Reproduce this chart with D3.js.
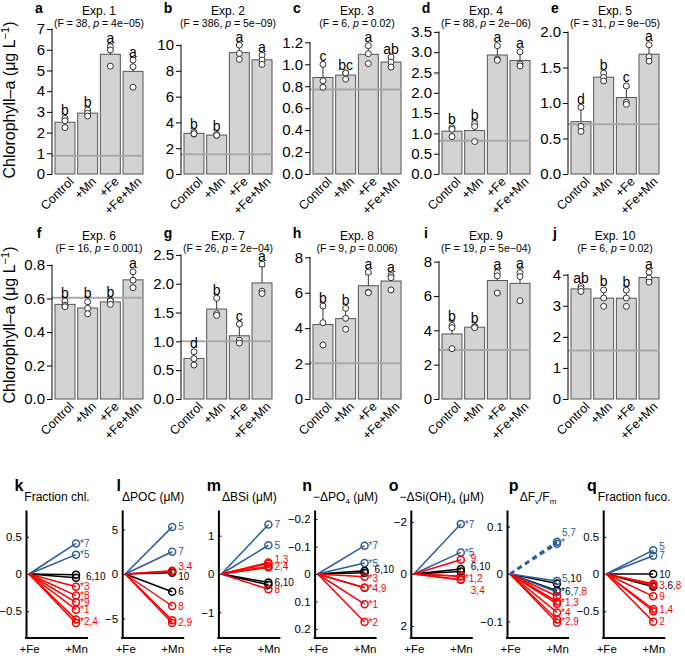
<!DOCTYPE html>
<html>
<head>
<meta charset="utf-8">
<script src="https://cdn.jsdelivr.net/npm/d3@7"></script>
<style>
body { margin: 0; background: #fff; }
svg { font-family: "Liberation Sans", Arial, sans-serif; }
</style>
</head>
<body>
<script>
// ---- chlorophyll-a bioassays (panels a-j) ----
var treatments = ["Control", "+Mn", "+Fe", "+Fe+Mn"];
var panelLetters = ["a", "b", "c", "d", "e", "f", "g", "h", "i", "j"];
var expNames = ["Exp. 1", "Exp. 2", "Exp. 3", "Exp. 4", "Exp. 5", "Exp. 6", "Exp. 7", "Exp. 8", "Exp. 9", "Exp. 10"];
var fValues = ["38", "386", "6", "88", "31", "16", "26", "9", "19", "6"];
var pValues = ["4e\u221205", "5e\u221209", "0.02", "2e\u221206", "9e\u221205", "0.001", "2e\u221204", "0.006", "5e\u221204", "0.02"];
var sigLetters = [
  ["b", "b", "a", "a"], ["b", "b", "a", "a"], ["c", "bc", "a", "ab"], ["b", "b", "a", "a"], ["d", "b", "c", "a"],
  ["b", "b", "b", "a"], ["d", "b", "c", "a"], ["b", "b", "a", "a"], ["b", "b", "a", "a"], ["ab", "b", "b", "a"]
];
var initialChl = [0.88, 1.53, 0.77, 0.82, 0.70, 0.605, 1.0, 2.02, 2.85, 1.56];
// triplicate bottles: Control, +Mn, +Fe, +Fe+Mn
var replicates = [
  [[2.69, 2.57, 2.24], [3.09, 2.93, 2.80], [6.15, 5.99, 5.21], [5.50, 5.18, 4.19]],
  [[3.25, 3.10, 3.12], [3.06, 3.00, 3.00], [10.0, 9.35, 8.89], [9.22, 8.84, 8.50]],
  [[1.00, 0.85, 0.79], [0.92, 0.92, 0.864], [1.17, 1.097, 1.006], [1.066, 1.02, 0.975]],
  [[1.14, 1.10, 0.92], [1.24, 1.17, 0.80], [3.16, 2.83, 2.80], [3.01, 2.71, 2.66]],
  [[0.94, 0.67, 0.60], [1.42, 1.36, 1.31], [1.24, 1.01, 0.98], [1.82, 1.65, 1.59]],
  [[0.585, 0.56, 0.551], [0.581, 0.541, 0.509], [0.59, 0.585, 0.565], [0.76, 0.71, 0.665]],
  [[0.82, 0.70, 0.59], [1.75, 1.48, 1.45], [1.30, 1.02, 0.97], [2.34, 1.87, 1.83]],
  [[5.25, 4.31, 3.05], [5.12, 4.56, 3.94], [7.16, 6.03, 6.00], [6.97, 6.85, 6.16]],
  [[4.28, 4.15, 2.93], [4.22, 4.18, 4.15], [7.36, 7.17, 6.17], [7.36, 7.13, 5.72]],
  [[3.62, 3.55, 3.46], [3.51, 3.25, 2.98], [3.50, 3.25, 2.98], [4.08, 3.89, 3.76]]
];
var yMax = [7.1, 11.4, 1.34, 3.62, 2.07, 0.878, 2.55, 8.3, 8.56, 4.73];
var tickMax = [7, 10, 1.2, 3.5, 2.0, 0.8, 2.5, 8, 8, 4];
var tickStep = [1, 2, 0.2, 0.5, 0.5, 0.2, 0.5, 2, 2, 1];
var tickDecimals = [0, 0, 1, 1, 1, 1, 1, 0, 0, 0];

// ---- +Fe+Mn relative to +Fe (panels k-q), experiments 1..10 ----
var mnEffect = ["neg", "neg", "neg", "neg", "pos", "none", "pos", "neg", "neg", "none"];
var fracChl = [-0.48, -0.61, -0.17, -0.66, 0.26, -0.05, 0.41, -0.29, -0.38, -0.01];
var dPOC = [null, -5.2, 0.37, 0.30, 5.3, -2.0, 2.5, -3.6, -5.5, 0.15];
var dBSi = [0.30, 0.20, 0.27, 0.17, 0.75, -0.22, 1.29, -0.40, null, -0.28];
var negDPO4 = [0.11, 0.175, 0.01, 0.05, -0.04, -0.012, -0.103, null, 0.05, -0.005];
var negDSi = [0.09, 0.09, 0.22, 0.22, -0.83, -0.19, -1.92, null, -0.55, -0.10];
var dFvFm = [-0.058, -0.096, -0.063, -0.081, -0.015, -0.035, -0.038, -0.047, -0.103, -0.02];
var dFvFmDashed = [[5, 0.068], [7, 0.064]];
var fracFuco = [-0.47, -0.64, -0.13, -0.50, 0.32, -0.17, 0.245, -0.15, -0.30, 0.0];
// label: [value, experiments, star]
var chlLabels = [[0.41, [7], 1], [0.26, [5], 1], [-0.03, [6, 10], 0], [-0.17, [3], 1], [-0.29, [8], 1], [-0.38, [9], 1], [-0.48, [1], 1], [-0.64, [2, 4], 1]];
var pocLabels = [[5.3, [5], 0], [2.5, [7], 0], [0.85, [3, 4], 0], [-0.25, [10], 0], [-2.0, [6], 0], [-3.6, [8], 0], [-5.4, [2, 9], 0]];
var bsiLabels = [[1.29, [7], 0], [0.75, [5], 0], [0.39, [1, 3], 0], [0.2, [2, 4], 0], [-0.22, [6, 10], 0], [-0.41, [8], 0]];
var po4Labels = [[-0.103, [7], 1], [-0.04, [5], 1], [-0.018, [6, 10], 0], [0.016, [3], 1], [0.051, [4, 9], 1], [0.112, [1], 1], [0.178, [2], 1]];
var siLabels = [[-1.92, [7], 1], [-0.83, [5], 1], [-0.58, [9], 0], [-0.29, [6, 10], 0], [0.19, [1, 2], 1], [0.63, [3, 4], 0]];
var fvfmLabels = [[0.088, [5, 7], 0], [-0.01, [5, 10], 0], [-0.037, [6, 7, 8], 1], [-0.06, [1, 3], 1], [-0.081, [4], 1], [-0.101, [2, 9], 1]];
var fucoLabels = [[0.37, [5], 0], [0.245, [7], 0], [0, [10], 0], [-0.15, [3, 6, 8], 0], [-0.3, [9], 0], [-0.48, [1, 4], 0], [-0.64, [2], 0]];

var effectColor = { pos: "#2c5d9f", none: "#000", neg: "#ff0000" };
function expColor(e) { return effectColor[mnEffect[e - 1]]; }

var svg = d3.select("body").append("svg").attr("width", 685).attr("height", 656);

// y label for both rows
[100, 325].forEach(function (cy) {
  var t = svg.append("text")
      .attr("transform", "translate(15," + cy + ") rotate(-90)")
      .attr("text-anchor", "middle").attr("font-size", 16)
      .text("Chlorophyll\u2013a (\u03bcg L");
  t.append("tspan").attr("font-size", 11).attr("dy", -6).text("\u22121");
  t.append("tspan").attr("dy", 6).text(")");
});

function chlPanel(k) {
  var row = Math.floor(k / 5), col = k % 5;
  var ax = 52 + col * 129, y0 = 174 + row * 225, yT = 27 + row * 225;
  var x = d3.scaleBand().domain(treatments).range([ax + 3, ax + 91]).paddingInner(0.12);
  var y = d3.scaleLinear().domain([0, yMax[k]]).range([y0, yT]);
  var g = svg.append("g");

  var stats = replicates[k].map(function (pts, j) {
    return { t: treatments[j], pts: pts, m: d3.mean(pts), sd: d3.deviation(pts), lab: sigLetters[k][j] };
  });

  g.selectAll("rect").data(stats).enter().append("rect")
      .attr("x", function (d) { return x(d.t); })
      .attr("width", x.bandwidth())
      .attr("y", function (d) { return y(d.m); })
      .attr("height", function (d) { return y0 - y(d.m); })
      .attr("fill", "#d3d3d3").attr("stroke", "#555").attr("stroke-width", 1);

  g.append("line")
      .attr("x1", ax).attr("x2", ax + 91)
      .attr("y1", y(initialChl[k])).attr("y2", y(initialChl[k]))
      .attr("stroke", "#a8a8a8").attr("stroke-width", 2);

  var cx = function (d) { return x(d.t) + x.bandwidth() / 2; };
  g.selectAll(".err").data(stats).enter().append("path")
      .attr("d", function (d) {
        var c = cx(d), top = y(d.m + d.sd);
        return "M" + c + "," + y(d.m) + "V" + top + "M" + (c - 3) + "," + top + "H" + (c + 3);
      })
      .attr("stroke", "#333").attr("stroke-width", 1).attr("fill", "none");

  stats.forEach(function (d) {
    g.selectAll(null).data(d.pts).enter().append("circle")
        .attr("cx", cx(d)).attr("cy", function (v) { return y(v); })
        .attr("r", 3).attr("fill", "#fff").attr("stroke", "#333").attr("stroke-width", 1);
  });

  g.selectAll(".sig").data(stats).enter().append("text")
      .attr("x", cx)
      .attr("y", function (d) { return Math.min(y(d.m + d.sd), y(d3.max(d.pts)) - 3) - 0.5; })
      .attr("text-anchor", "middle").attr("font-size", 14)
      .text(function (d) { return d.lab; });

  var ticks = d3.range(0, tickMax[k] + tickStep[k] / 2, tickStep[k]);
  var ya = g.append("g").attr("transform", "translate(" + ax + ",0)")
      .call(d3.axisLeft(y).tickValues(ticks).tickSize(5).tickPadding(2)
        .tickFormat(d3.format(tickDecimals[k] ? ".1f" : "d")));
  ya.select(".domain").remove();
  ya.attr("font-size", 15).attr("font-family", null);
  g.append("line").attr("x1", ax).attr("x2", ax)
      .attr("y1", y(0) + 0.5).attr("y2", y(tickMax[k]) - 0.5)
      .attr("stroke", "#000").attr("stroke-width", 1);

  g.selectAll(".xl").data(stats).enter().append("text")
      .attr("transform", function (d) { return "translate(" + (cx(d) + 3) + "," + (y0 + 2) + ") rotate(-45)"; })
      .attr("dy", "0.72em").attr("text-anchor", "end").attr("font-size", 12.5)
      .text(function (d) { return d.t; });

  g.append("text").attr("x", ax - 13).attr("y", 12.5 + row * 225)
      .attr("text-anchor", "middle").attr("font-weight", "bold").attr("font-size", 14)
      .text(panelLetters[k]);
  g.append("text").attr("x", ax + 47).attr("y", 15 + row * 225)
      .attr("text-anchor", "middle").attr("font-size", 12).text(expNames[k]);
  var f = g.append("text").attr("x", ax + 47).attr("y", 26.5 + row * 225)
      .attr("text-anchor", "middle").attr("font-size", 10.5);
  f.append("tspan").text("(F = " + fValues[k] + ", ");
  f.append("tspan").attr("font-style", "italic").text("p");
  f.append("tspan").text(" = " + pValues[k] + ")");
}

for (var k = 0; k < 10; k++) chlPanel(k);

var ratioPanels = [
  { letter: "k", title: [["Fraction chl."]], vals: fracChl, labels: chlLabels, lim: 0.86, ticks: [-0.5, 0, 0.5], gap: 10 },
  { letter: "l", title: [["\u0394POC (\u03bcM)"]], vals: dPOC, labels: pocLabels, lim: 7.2, ticks: [-5, 0, 5], gap: 6 },
  { letter: "m", title: [["\u0394BSi (\u03bcM)"]], vals: dBSi, labels: bsiLabels, lim: 1.67, ticks: [-1, 0, 1], gap: 6 },
  { letter: "n", title: [["\u2212\u0394PO"], ["4", 1], [" (\u03bcM)"]], vals: negDPO4, labels: po4Labels, lim: 0.233, flip: true, ticks: [-0.2, -0.1, 0, 0.1, 0.2], gap: 10 },
  { letter: "o", title: [["\u2212\u0394Si(OH)"], ["4", 1], [" (\u03bcM)"]], vals: negDSi, labels: siLabels, lim: 2.46, flip: true, ticks: [-2, 0, 2], gap: 10 },
  { letter: "p", title: [["\u0394F"], ["v", 1], ["/F"], ["m", 1]], vals: dFvFm, labels: fvfmLabels, dashed: dFvFmDashed, lim: 0.135, ticks: [-0.1, 0, 0.1], gap: 5 },
  { letter: "q", title: [["Fraction fuco."]], vals: fracFuco, labels: fucoLabels, lim: 0.86, ticks: [-0.5, 0, 0.5], gap: 6 }
];

function ratioPanel(i, p) {
  var ax = 26 + i * 96.2;
  var x = d3.scalePoint().domain(["+Fe", "+Mn"]).range([ax + 3, ax + 50]);
  var y = d3.scaleLinear().domain([-p.lim, p.lim]).range(p.flip ? [510, 638] : [638, 510]);
  var g = svg.append("g");

  var ya = g.append("g").attr("transform", "translate(" + ax + ",0)")
      .call(d3.axisLeft(y).tickValues(p.ticks).tickSizeInner(-3).tickSizeOuter(0).tickPadding(4)
        .tickFormat(d3.format("~g")));
  ya.attr("font-size", 11.5).attr("font-family", null);
  ya.select(".domain").attr("stroke-width", 2);

  var xa = g.append("g").attr("transform", "translate(0,638)")
      .call(d3.axisBottom(x).tickSize(0).tickPadding(7));
  xa.select(".domain").remove();
  xa.attr("font-size", 11.5).attr("font-family", null);
  g.append("line").attr("x1", ax - 1).attr("x2", ax + 62).attr("y1", 638).attr("y2", 638)
      .attr("stroke", "#000").attr("stroke-width", 2);

  var order = { none: 0, pos: 1, neg: 2 };
  var pts = p.vals.map(function (v, j) { return { e: j + 1, v: v }; })
      .filter(function (d) { return d.v !== null; })
      .sort(function (a, b) { return order[mnEffect[a.e - 1]] - order[mnEffect[b.e - 1]]; });

  g.selectAll(".ln").data(pts).enter().append("line")
      .attr("x1", x("+Fe")).attr("y1", y(0))
      .attr("x2", x("+Mn")).attr("y2", function (d) { return y(d.v); })
      .attr("stroke", function (d) { return expColor(d.e); }).attr("stroke-width", 1.5);
  g.selectAll(".pt").data(pts).enter().append("circle")
      .attr("cx", x("+Mn")).attr("cy", function (d) { return y(d.v); })
      .attr("r", 3.5).attr("fill", "none")
      .attr("stroke", function (d) { return expColor(d.e); }).attr("stroke-width", 1.5);

  if (p.dashed) {
    g.selectAll(".dl").data(p.dashed).enter().append("line")
        .attr("x1", x("+Fe")).attr("y1", y(0))
        .attr("x2", x("+Mn")).attr("y2", function (d) { return y(d[1]); })
        .attr("stroke", function (d) { return expColor(d[0]); })
        .attr("stroke-width", 2.5).attr("stroke-dasharray", "5,4");
    g.selectAll(".dp").data(p.dashed).enter().append("circle")
        .attr("cx", x("+Mn")).attr("cy", function (d) { return y(d[1]); })
        .attr("r", 3.5).attr("fill", "none")
        .attr("stroke", function (d) { return expColor(d[0]); }).attr("stroke-width", 1.5);
    g.append("text").attr("x", x("+Mn") + 4).attr("y", y(d3.mean(p.dashed, function (d) { return d[1]; })))
        .attr("dy", "0.35em").attr("font-size", 10).attr("fill", expColor(p.dashed[0][0])).text("*");
  }

  p.labels.forEach(function (L) {
    var t = g.append("text")
        .attr("x", x("+Mn") + (L[2] ? 4 : p.gap)).attr("y", y(L[0]))
        .attr("dy", "0.35em").attr("font-size", 10);
    if (L[2]) t.append("tspan").attr("fill", expColor(L[1][0])).text("*");
    L[1].forEach(function (e, j) {
      t.append("tspan").attr("fill", expColor(e)).text((j ? "," : "") + e);
    });
  });

  var tt = g.append("text").attr("x", ax + 31).attr("y", 500.5)
      .attr("text-anchor", "middle").attr("font-size", 12);
  var shift = 0;
  p.title.forEach(function (s) {
    var sp = tt.append("tspan").text(s[0]);
    if (s[1]) { sp.attr("font-size", 8).attr("dy", 3 - shift); shift = 3; }
    else if (shift) { sp.attr("dy", -shift); shift = 0; }
  });
  var w = tt.node().getComputedTextLength();
  g.append("text").attr("x", ax + 31 - w / 2 - 1).attr("y", 491)
      .attr("text-anchor", "end").attr("font-weight", "bold").attr("font-size", 16)
      .text(p.letter);
}

ratioPanels.forEach(function (p, i) { ratioPanel(i, p); });
</script>
</body>
</html>
